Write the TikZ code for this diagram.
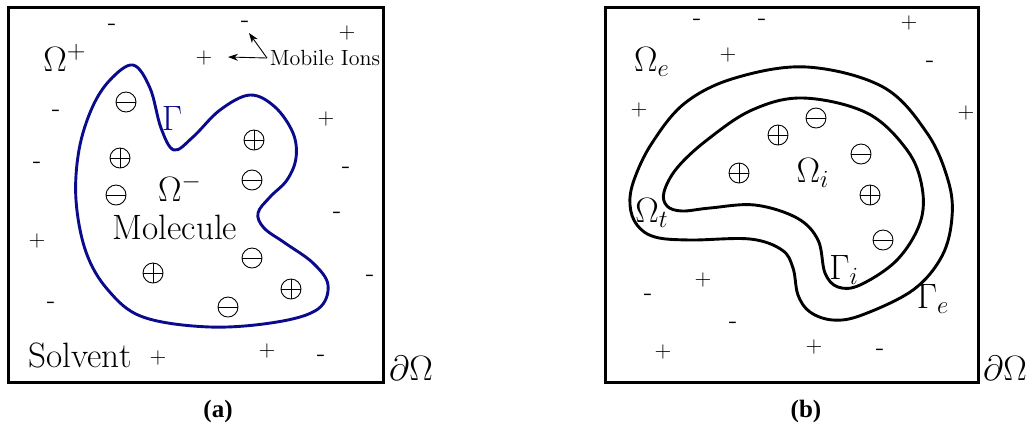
\RequirePackage{fix-cm}
\documentclass[tikz,border=0pt]{standalone}
\usepackage{fontspec}
\newfontfamily\capfont{Liberation Serif}
\usetikzlibrary{arrows.meta}
\definecolor{gammablue}{RGB}{10,10,140}

\begin{document}
\begin{tikzpicture}[x=0.5pt, y=-0.5pt, >={Stealth[length=5pt,width=3.5pt]}, thick,
    font=\fontsize{17.6}{21}\selectfont,
    plussign/.style={font=\fontsize{11}{13}\selectfont, inner sep=0pt},
    minussign/.style={font=\fontsize{13}{15}\selectfont, inner sep=0pt},
    ion/.style={circle, draw, line width=0.45pt, minimum size=10pt, inner sep=0pt},
    posion/.style={ion, path picture={
        \draw[line width=0.45pt] (path picture bounding box.west) -- (path picture bounding box.east)
              (path picture bounding box.north) -- (path picture bounding box.south);}},
    negion/.style={ion, path picture={
        \draw[line width=0.45pt] (path picture bounding box.west) -- (path picture bounding box.east);}},
    boundary/.style={line width=1.45pt},
    domainbox/.style={line width=1.5pt}]

    \useasboundingbox (0,0) rectangle (1027,436);

    %%% Panel (a): molecule in solvent
    \begin{scope}
        % Outer box
        \draw[domainbox] (8,7) rectangle (383,382);

        % Molecular surface Gamma
        \draw[boundary, draw=gammablue]
             plot[smooth cycle, tension=0.6] coordinates {
                (133,65) (150,88) (161,128) (174,150) (193,137) (220,110) (250,95)
                (275,107) (293,133) (296,158) (287,180) (270,197) (258,213) (264,228)
                (285,243) (313,263) (328,285) (318,309) (277,322) (210,327) (143,317)
                (108,290) (86,252) (76,200) (79,150) (92,108) (110,80)
             };

        % Labels
        \node (omplus) at (65,58) {$\Omega^+$};
        \node[text=gammablue] (gamma) at (172,118) {$\Gamma$};
        \node (omminus) at (180,188) {$\Omega^-$};
        \node (molecule) at (175,227) {Molecule};
        \node (solvent) at (80,355) {Solvent};
        \node (bda) at (411,368) {$\partial\Omega$};
        \node[font=\capfont\bfseries\fontsize{12.5}{14}\selectfont] (capa) at (218,411) {(a)};

        % Fixed charges
        \foreach \px/\py [count=\k] in {126/102, 116/195, 252/180, 252/258, 228/307}
            \node[negion] (aneg\k) at (\px,\py) {};
        \foreach \px/\py [count=\k] in {120/158, 254/140, 153/273, 291/289}
            \node[posion] (apos\k) at (\px,\py) {};

        % Mobile ions
        \foreach \px/\py [count=\k] in {347/33, 204/58, 326/119, 37/241, 158/358, 267/351}
            \node[plussign] (aplus\k) at (\px,\py) {+};
        \foreach \px/\py [count=\k] in {112/27, 245/24, 56/113, 37/165, 346/170, 337/215,
                                        370/278, 51/305, 321/358}
            \node[minussign] (aminus\k) at (\px,\py) {-};

        % Pointer to the mobile ions
        \node[font=\fontsize{11}{13}\selectfont, anchor=west, inner sep=1pt] (mobile) at (267,58) {Mobile Ions};
        \coordinate (tipl) at (228,57);
        \coordinate (tipu) at (249,33);
        \draw[->, line width=0.45pt] (mobile.west) -- (tipl);
        \draw[->, line width=0.45pt] (mobile.west) -- (tipu);
    \end{scope}

    %%% Panel (b): three regions
    \begin{scope}
        % Outer box
        \draw[domainbox] (605,7) rectangle (978,382);

        % Outer surface Gamma_e
        \draw[boundary]
             plot[smooth cycle, tension=0.6] coordinates {
                (807,67) (883,87) (927,133) (948,180) (952,217) (942,256) (913,290)
                (862,315) (833,320) (810,312) (798,295) (793,268) (782,250) (750,239)
                (690,240) (655,237) (637,225) (630,205) (634,180) (652,143) (685,103)
                (735,78)
             };
        % Inner surface Gamma_i
        \draw[boundary]
             plot[smooth cycle, tension=0.6] coordinates {
                (803,98) (867,113) (907,150) (922,187) (920,223) (897,260) (860,285)
                (838,287) (825,273) (818,240) (797,218) (755,205) (710,208) (682,211)
                (667,206) (664,192) (677,168) (707,140) (752,110)
             };

        % Labels
        \node (ome) at (652,62) {$\Omega_e$};
        \node (omi) at (813,173) {$\Omega_i$};
        \node (omt) at (652,213) {$\Omega_t$};
        \node (gami) at (844,270) {$\Gamma_i$};
        \node (game) at (933,299) {$\Gamma_e$};
        \node (bdb) at (1005,368) {$\partial\Omega$};
        \node[font=\capfont\bfseries\fontsize{12.5}{14}\selectfont] (capb) at (806,411) {(b)};

        % Fixed charges
        \foreach \px/\py [count=\k] in {816/118, 861/154, 883/240}
            \node[negion] (bneg\k) at (\px,\py) {};
        \foreach \px/\py [count=\k] in {778/135, 739/173, 870/195}
            \node[posion] (bpos\k) at (\px,\py) {};

        % Mobile ions
        \foreach \px/\py [count=\k] in {909/23, 728/55, 639/110, 966/113, 703/280, 663/352, 814/347}
            \node[plussign] (bplus\k) at (\px,\py) {+};
        \foreach \px/\py [count=\k] in {697/22, 762/22, 930/64, 648/297, 733/325, 880/352}
            \node[minussign] (bminus\k) at (\px,\py) {-};
    \end{scope}

\end{tikzpicture}
\end{document}
